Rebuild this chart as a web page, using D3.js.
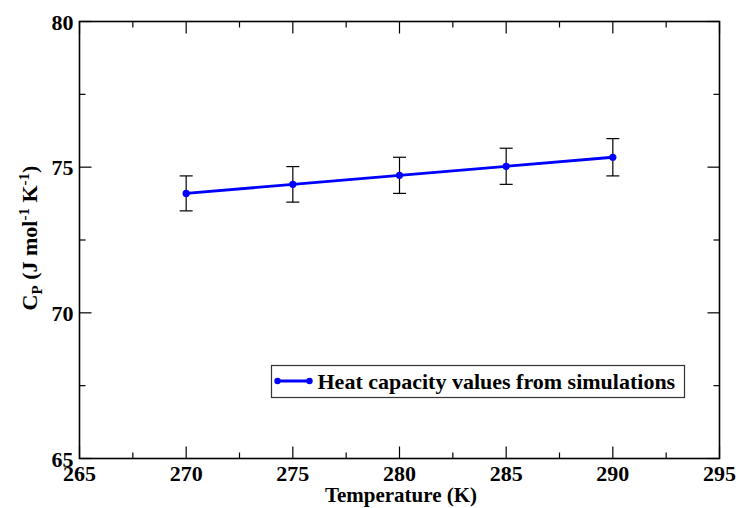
<!DOCTYPE html>
<html>
<head>
<meta charset="utf-8">
<script src="https://cdn.jsdelivr.net/npm/d3@7"></script>
<style>
  body { margin: 0; background: #fff; }
  svg { display: block; }
  text { font-family: 'Liberation Serif', 'Times New Roman', Times, serif; font-weight: bold; }
</style>
</head>
<body>
<svg id="chart" width="738" height="508"></svg>
<script>
// data
const temps = [270, 275, 280, 285, 290];
const cpValues = [74.10, 74.41, 74.72, 75.03, 75.34];
const cpErrors = [0.60, 0.61, 0.62, 0.62, 0.64];
const xTicks = [265, 270, 275, 280, 285, 290, 295];
const yTicks = [65, 70, 75, 80];
const seriesLabel = 'Heat capacity values from simulations';

const svg = d3.select('#chart');
const box = { left: 79.5, right: 719.5, top: 21.5, bottom: 458.5 };

const x = d3.scaleLinear().domain([265, 295]).range([box.left, box.right]);
const y = d3.scaleLinear().domain([65, 80]).range([box.bottom, box.top]);

const points = temps.map((t, i) => ({ t, v: cpValues[i], e: cpErrors[i] }));

// minor ticks halfway between the majors
const xMinor = d3.range(267.5, 295, 5);
const yMinor = d3.range(67.5, 80, 5);

// inward ticks on all four sides
function ticks(data, len, horiz) {
  const sel = svg.append('g').attr('stroke', '#000').attr('stroke-width', 1.2);
  data.forEach((v) => {
    if (horiz) {
      const px = x(v);
      sel.append('line').attr('x1', px).attr('x2', px).attr('y1', box.bottom).attr('y2', box.bottom - len);
      sel.append('line').attr('x1', px).attr('x2', px).attr('y1', box.top).attr('y2', box.top + len);
    } else {
      const py = y(v);
      sel.append('line').attr('y1', py).attr('y2', py).attr('x1', box.left).attr('x2', box.left + len);
      sel.append('line').attr('y1', py).attr('y2', py).attr('x1', box.right).attr('x2', box.right - len);
    }
  });
}
ticks(xTicks, 12, true);
ticks(xMinor, 6, true);
ticks(yTicks, 12, false);
ticks(yMinor, 6, false);

// frame
svg.append('rect')
  .attr('x', box.left)
  .attr('y', box.top)
  .attr('width', box.right - box.left)
  .attr('height', box.bottom - box.top)
  .attr('fill', 'none')
  .attr('stroke', '#000')
  .attr('stroke-width', 1.6);

// tick labels
svg.append('g')
  .selectAll('text')
  .data(xTicks)
  .join('text')
  .attr('x', (d) => x(d))
  .attr('y', box.bottom + 22)
  .attr('text-anchor', 'middle')
  .attr('font-size', 22)
  .text((d) => d);

svg.append('g')
  .selectAll('text')
  .data(yTicks)
  .join('text')
  .attr('x', box.left - 6)
  .attr('y', (d) => y(d) + 8)
  .attr('text-anchor', 'end')
  .attr('font-size', 22)
  .text((d) => d);

// axis titles
svg.append('text')
  .attr('x', 401)
  .attr('y', 502)
  .attr('text-anchor', 'middle')
  .attr('font-size', 21)
  .text('Temperature (K)');

const yTitle = svg.append('text')
  .attr('transform', 'translate(37,238) rotate(-90)')
  .attr('text-anchor', 'middle')
  .attr('font-size', 22);
yTitle.append('tspan').text('C');
yTitle.append('tspan').attr('font-size', 15).attr('dy', 5).text('P');
yTitle.append('tspan').attr('dy', -5).text(' (J mol');
yTitle.append('tspan').attr('font-size', 15).attr('dy', -8).text('-1');
yTitle.append('tspan').attr('dy', 8).text(' K');
yTitle.append('tspan').attr('font-size', 15).attr('dy', -8).text('-1');
yTitle.append('tspan').attr('dy', 8).text(')');

// error bars
const cap = 6.5;
const err = svg.append('g').attr('stroke', '#000').attr('stroke-width', 1.2);
points.forEach((d) => {
  const px = x(d.t);
  err.append('line').attr('x1', px).attr('x2', px).attr('y1', y(d.v - d.e)).attr('y2', y(d.v + d.e));
  err.append('line').attr('x1', px - cap).attr('x2', px + cap).attr('y1', y(d.v + d.e)).attr('y2', y(d.v + d.e));
  err.append('line').attr('x1', px - cap).attr('x2', px + cap).attr('y1', y(d.v - d.e)).attr('y2', y(d.v - d.e));
});

// series line + markers
const line = d3.line().x((d) => x(d.t)).y((d) => y(d.v));
svg.append('path')
  .datum(points)
  .attr('fill', 'none')
  .attr('stroke', '#0000ff')
  .attr('stroke-width', 2.8)
  .attr('d', line);
svg.append('g')
  .selectAll('circle')
  .data(points)
  .join('circle')
  .attr('cx', (d) => x(d.t))
  .attr('cy', (d) => y(d.v))
  .attr('r', 3.6)
  .attr('fill', '#0000ff');

// legend
const lg = svg.append('g').attr('transform', 'translate(271.5,365.5)');
lg.append('rect')
  .attr('width', 413)
  .attr('height', 32)
  .attr('fill', '#fff')
  .attr('stroke', '#333')
  .attr('stroke-width', 1.2);
lg.append('line')
  .attr('x1', 6).attr('x2', 38).attr('y1', 15.5).attr('y2', 15.5)
  .attr('stroke', '#0000ff').attr('stroke-width', 2.8);
lg.selectAll('circle')
  .data([6, 38])
  .join('circle')
  .attr('cx', (d) => d)
  .attr('cy', 15.5)
  .attr('r', 3.2)
  .attr('fill', '#0000ff');
lg.append('text')
  .attr('x', 46)
  .attr('y', 23)
  .attr('font-size', 22)
  .text(seriesLabel);
</script>
</body>
</html>
